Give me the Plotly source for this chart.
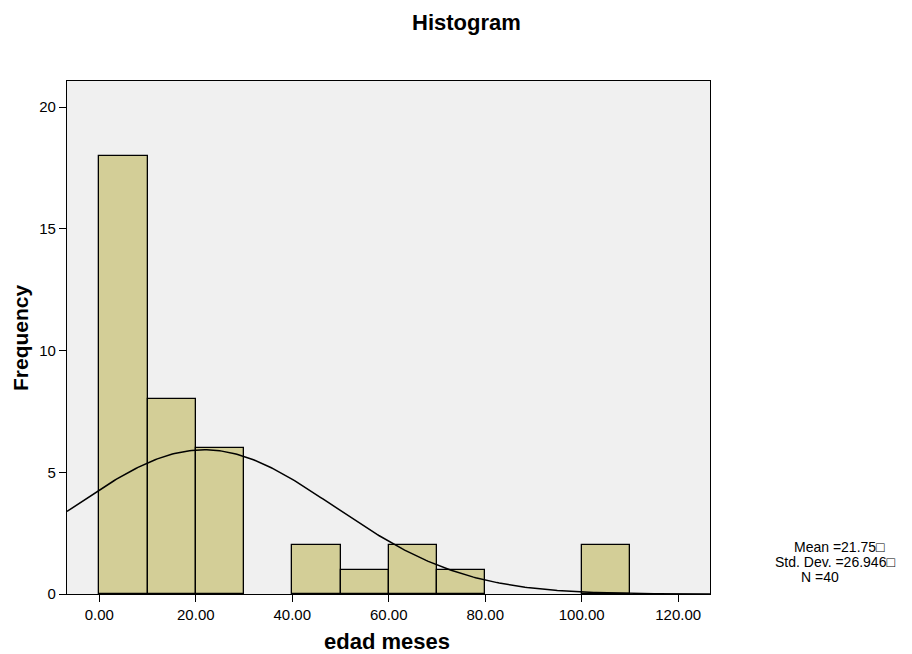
import numpy as np
import plotly.graph_objects as go

bin_start = [0, 10, 20, 40, 50, 60, 70, 100]
counts = [18, 8, 6, 2, 1, 2, 1, 2]
bin_width = 10
mean_val = 21.75
std_val = 26.946
n_val = 40
x_ticks = [0, 20, 40, 60, 80, 100, 120]
x_tick_labels = ["0.00", "20.00", "40.00", "60.00", "80.00", "100.00", "120.00"]
y_ticks = [0, 5, 10, 15, 20]
stats_lines = ["Mean =21.75\u25a1", "Std. Dev. =26.946\u25a1", "N =40"]

centers = [s + bin_width / 2 for s in bin_start]

W, H = 912, 654
L, R, T, B = 67, 202, 81, 60
pw, ph = W - L - R, H - T - B

def px(xp):
    return (xp - L) / pw

def py(yp):
    return (H - B - yp) / ph

xr = [-6.7, 126.6]
xs = np.linspace(xr[0], xr[1], 300)
ys = n_val * bin_width / (std_val * np.sqrt(2 * np.pi)) * np.exp(-0.5 * ((xs - mean_val) / std_val) ** 2)

fig = go.Figure()
fig.add_trace(go.Bar(x=centers, y=counts, width=[bin_width] * len(centers),
                     marker=dict(color="#d3ce97", line=dict(color="black", width=1.3)),
                     showlegend=False, hoverinfo="skip"))
fig.add_trace(go.Scatter(x=xs, y=ys, mode="lines", line=dict(color="black", width=1.5),
                         showlegend=False, hoverinfo="skip"))

font = "Liberation Sans, Arial, sans-serif"
annotations = [
    dict(text="<b>Histogram</b>", x=px(466), y=py(22), xref="paper", yref="paper", showarrow=False,
         font=dict(size=22), xanchor="center", yanchor="middle"),
    dict(text="<b>edad meses</b>", x=px(387), y=py(641), xref="paper", yref="paper", showarrow=False,
         font=dict(size=22), xanchor="center", yanchor="middle"),
    dict(text="<b>Frequency</b>", x=px(20), y=py(338), xref="paper", yref="paper", showarrow=False,
         font=dict(size=21), textangle=-90, xanchor="center", yanchor="middle"),
]
for txt, xc, yc in zip(stats_lines, [840, 835, 820], [547, 562, 577]):
    annotations.append(dict(text=txt, x=px(xc), y=py(yc), xref="paper", yref="paper", showarrow=False,
                            font=dict(size=14), xanchor="center", yanchor="middle",
                            borderpad=0))

fig.update_layout(
    width=W, height=H,
    margin=dict(l=L, r=R, t=T, b=B),
    paper_bgcolor="white", plot_bgcolor="#f0f0f0",
    font=dict(family=font, color="black", size=15),
    bargap=0,
    xaxis=dict(range=xr, tickvals=x_ticks, ticktext=x_tick_labels, showgrid=False, zeroline=False,
               showline=True, linecolor="black", linewidth=1.3, mirror=True,
               ticks="outside", ticklen=7, tickcolor="black", tickfont=dict(size=15)),
    yaxis=dict(range=[0, 21.07], tickvals=y_ticks, showgrid=False, zeroline=False,
               showline=True, linecolor="black", linewidth=1.3, mirror=True,
               ticks="outside", ticklen=7, tickcolor="black", tickfont=dict(size=15)),
    annotations=annotations,
)
fig.write_html("out.html")
